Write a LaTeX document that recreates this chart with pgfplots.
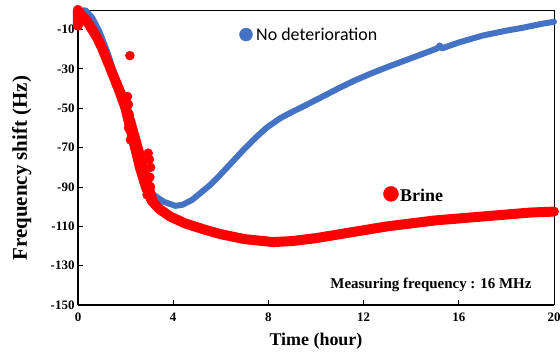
\documentclass[border=0pt]{standalone}
\usepackage{fontspec}
\setmainfont{Liberation Serif}
\newfontfamily\carlito{Carlito}
\usepackage{pgfplots}
\pgfplotsset{compat=1.18}
\definecolor{xblue}{HTML}{4472C4}
\definecolor{xred}{HTML}{FF0000}
\begin{document}
\begin{tikzpicture}
\useasboundingbox (-78bp,-49bp) rectangle (482bp,305bp);
\begin{axis}[
 scale only axis, width=476bp, height=295bp,
 at={(0,0)}, anchor=south west,
 xmin=0, xmax=20, ymin=-150, ymax=0,
 axis x line*=bottom, axis y line*=left,
 axis line style={line width=1.6bp, -},
 xtick={0,4,...,20}, ytick={-150,-130,...,-10},
 tick align=inside, major tick length=5bp, tick style={line width=1bp, black},
 /pgf/number format/assume math mode=true,
 ticklabel style={font=\bfseries\fontsize{13}{15}\selectfont},
 xticklabel style={yshift=-4bp},
 xlabel={Time (hour)}, ylabel={Frequency shift (Hz)},
 xlabel style={font=\bfseries\fontsize{18}{20}\selectfont, at={(axis description cs:0.5,-0.124)}, anchor=center},
 ylabel style={font=\bfseries\fontsize{21}{24}\selectfont, at={(axis description cs:-0.118,0.464)}, anchor=center},
 clip=false,
]
\draw[line width=0.8bp] (rel axis cs:0,1) -- (rel axis cs:1,1) -- (rel axis cs:1,0);
% No deterioration
\addplot[xblue, line width=6bp, line cap=round, line join=round] coordinates {
(0.1,-1) (0.3,0) (0.6,-4) (0.9,-11) (1.25,-22) (1.6,-35) (1.92,-50) (2.22,-65) (2.52,-79) (2.8,-88.5) (3.05,-92.5) (3.24,-94.5) (3.6,-97.5) (4.1,-99.6) (4.4,-99) (4.8,-96.5) (5.2,-92.5) (5.55,-89) (6.0,-83.5) (6.5,-77) (7.0,-70.5) (7.5,-64.5) (7.93,-59.8) (8.5,-55) (9.0,-51.8) (9.47,-49) (10.2,-44.5) (11.0,-39.5) (11.6,-36) (12.27,-32.5) (13.0,-29) (14.0,-24.5) (15.1,-19.5) (15.2,-18) (15.3,-19.5) (16.0,-16.5) (17.0,-13) (18.0,-10.5) (18.7,-9) (19.5,-7) (20,-6)
};
% Brine
\addplot[xred, line width=10bp, line cap=round, line join=round] coordinates {
(0,-8) (0,0) (0.1,-2) (0.3,-4.5) (0.5,-8) (0.8,-14) (1.0,-19) (1.34,-29) (1.7,-40) (2.0,-50) (2.3,-65) (2.6,-80) (2.85,-90) (3.1,-97) (3.4,-101) (3.87,-105) (4.5,-108.5) (5.27,-111.5) (6,-114) (7,-116.5) (8.2,-118) (9,-117.5) (10,-116) (11,-114) (12,-112) (13,-110) (14,-108.5) (15,-107) (16,-106) (17,-105) (18,-104) (19,-103) (20,-102.5)
};
\addplot[xred, line width=8bp, line cap=round, line join=round] coordinates {
(1.5,-33) (1.9,-44) (2.25,-57) (2.55,-70) (2.85,-83) (3.05,-92) (3.2,-98)
};
\addplot[only marks, mark=*, mark size=4.5bp, xred, mark options={draw=xred, fill=xred}] coordinates {
(2.18,-23.2) (2.08,-44) (2.12,-48) (2.15,-53) (2.12,-60) (2.2,-66) (2.95,-72.8) (3.0,-76) (3.05,-80) (3.02,-85) (3.05,-90) (2.9,-94)
};
% labels
\addplot[only marks, mark=*, mark size=6.5bp, xblue, mark options={draw=xblue, fill=xblue}] coordinates {(7.06,-12.5)};
\addplot[only marks, mark=*, mark size=7.5bp, xred, mark options={draw=xred, fill=xred}] coordinates {(13.15,-93.5)};
\node[anchor=west, inner sep=0, font=\carlito\fontsize{18}{20}\selectfont] at (axis cs:7.48,-12.5) {No deterioration};
\node[anchor=west, inner sep=0, font=\bfseries\fontsize{18}{20}\selectfont] at (axis cs:13.53,-94.3) {Brine};
\node[anchor=center, inner sep=0, font=\bfseries\fontsize{15}{17}\selectfont] at (axis cs:14.83,-139.8) {Measuring frequency : 16 MHz};
\end{axis}
\end{tikzpicture}
\end{document}
